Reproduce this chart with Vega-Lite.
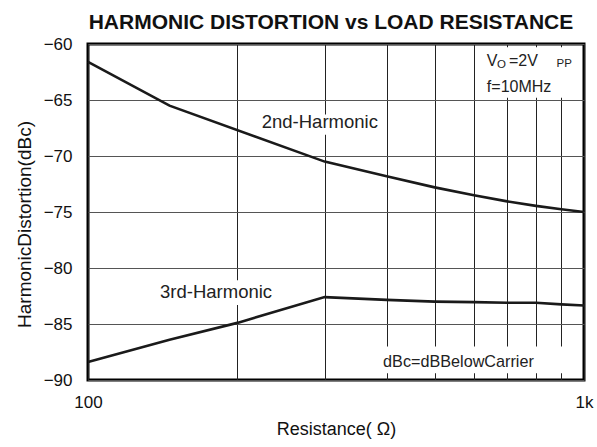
{
  "$schema": "https://vega.github.io/schema/vega-lite/v6.json",
  "width": 496,
  "height": 336,
  "autosize": {"type": "none"},
  "padding": {"left": 88, "top": 44, "right": 13, "bottom": 67},
  "background": "white",
  "config": {
    "font": "Liberation Sans",
    "view": {"stroke": "black", "strokeWidth": 3},
    "axis": {"labelFont": "Liberation Sans", "titleFont": "Liberation Sans", "labelColor": "#111", "titleColor": "#111", "titleFontWeight": "normal"}
  },
  "title": {"text": "HARMONIC DISTORTION vs LOAD RESISTANCE", "fontSize": 21, "fontWeight": "bold", "font": "Liberation Sans", "color": "#111", "anchor": "middle", "baseline": "bottom", "offset": 4, "dx": -5, "dy": 23},
  "datasets": {
    "curves": [
      {"r": 100, "d": -61.6, "s": "2nd"},
      {"r": 146, "d": -65.5, "s": "2nd"},
      {"r": 300, "d": -70.5, "s": "2nd"},
      {"r": 400, "d": -71.8, "s": "2nd"},
      {"r": 500, "d": -72.8, "s": "2nd"},
      {"r": 600, "d": -73.5, "s": "2nd"},
      {"r": 700, "d": -74.05, "s": "2nd"},
      {"r": 800, "d": -74.45, "s": "2nd"},
      {"r": 900, "d": -74.75, "s": "2nd"},
      {"r": 1000, "d": -75.0, "s": "2nd"},
      {"r": 100, "d": -88.4, "s": "3rd"},
      {"r": 146, "d": -86.4, "s": "3rd"},
      {"r": 200, "d": -84.9, "s": "3rd"},
      {"r": 300, "d": -82.6, "s": "3rd"},
      {"r": 400, "d": -82.85, "s": "3rd"},
      {"r": 500, "d": -83.0, "s": "3rd"},
      {"r": 600, "d": -83.05, "s": "3rd"},
      {"r": 700, "d": -83.1, "s": "3rd"},
      {"r": 800, "d": -83.1, "s": "3rd"},
      {"r": 900, "d": -83.25, "s": "3rd"},
      {"r": 1000, "d": -83.35, "s": "3rd"}
    ],
    "boxes": [
      {"x1": 605, "x2": 983, "y1": -60.3, "y2": -64.8},
      {"x1": 220, "x2": 391, "y1": -66.3, "y2": -68.1},
      {"x1": 138, "x2": 240, "y1": -81.1, "y2": -83.3},
      {"x1": 388, "x2": 981, "y1": -87.0, "y2": -89.4}
    ]
  },
  "layer": [
    {
      "data": {"name": "boxes"},
      "mark": {"type": "rect", "fill": "white", "stroke": null},
      "encoding": {
        "x": {"field": "x1", "type": "quantitative", "scale": {"type": "log", "domain": [100, 1000]},
          "axis": {"values": [100, 200, 300, 400, 500, 600, 700, 800, 900, 1000], "labelExpr": "datum.value == 100 ? '100' : datum.value == 1000 ? '1k' : ''", "grid": true, "gridColor": "#222", "gridWidth": 1, "gridOpacity": 1, "ticks": false, "domain": false, "labelFontSize": 17, "labelPadding": 14, "labelFlush": false, "labelOverlap": false, "title": "Resistance( Ω)", "titleFontSize": 18, "titlePadding": 10}},
        "x2": {"field": "x2"},
        "y": {"field": "y1", "type": "quantitative", "scale": {"domain": [-90, -60]},
          "axis": {"values": [-90, -85, -80, -75, -70, -65, -60], "grid": true, "gridColor": "#555", "gridWidth": 1.2, "gridOpacity": 1, "ticks": false, "domain": false, "labelFontSize": 17, "labelPadding": 16, "labelFlush": false, "title": "HarmonicDistortion(dBc)", "titleFontSize": 19, "titlePadding": 9, "titleY": 180}},
        "y2": {"field": "y2"}
      }
    },
    {
      "data": {"name": "curves"},
      "mark": {"type": "line", "color": "#1a1a1a", "strokeWidth": 2.6},
      "encoding": {
        "x": {"field": "r", "type": "quantitative"},
        "y": {"field": "d", "type": "quantitative"},
        "detail": {"field": "s"}
      }
    },
    {
      "data": {"values": [{"x": 224, "y": -67.53, "t": "2nd-Harmonic"}, {"x": 139.7, "y": -82.71, "t": "3rd-Harmonic"}]},
      "mark": {"type": "text", "align": "left", "baseline": "alphabetic", "fontSize": 18.5, "color": "#222", "font": "Liberation Sans"},
      "encoding": {"x": {"field": "x", "type": "quantitative"}, "y": {"field": "y", "type": "quantitative"}, "text": {"field": "t"}}
    },
    {
      "data": {"values": [{"x": 393.5, "y": -88.87, "t": "dBc=dBBelowCarrier"}]},
      "mark": {"type": "text", "align": "left", "baseline": "alphabetic", "fontSize": 16.2, "color": "#222", "font": "Liberation Sans"},
      "encoding": {"x": {"field": "x", "type": "quantitative"}, "y": {"field": "y", "type": "quantitative"}, "text": {"field": "t"}}
    },
    {
      "data": {"values": [{"x": 637, "y": -61.96, "t": "V"}, {"x": 706, "y": -61.96, "t": "=2V"}, {"x": 637, "y": -64.29, "t": "f=10MHz"}]},
      "mark": {"type": "text", "align": "left", "baseline": "alphabetic", "fontSize": 16, "color": "#222", "font": "Liberation Sans"},
      "encoding": {"x": {"field": "x", "type": "quantitative"}, "y": {"field": "y", "type": "quantitative"}, "text": {"field": "t"}}
    },
    {
      "data": {"values": [{"x": 668, "y": -62.15, "t": "O"}, {"x": 880, "y": -62.05, "t": "PP"}]},
      "mark": {"type": "text", "align": "left", "baseline": "alphabetic", "fontSize": 11.5, "color": "#222", "font": "Liberation Sans"},
      "encoding": {"x": {"field": "x", "type": "quantitative"}, "y": {"field": "y", "type": "quantitative"}, "text": {"field": "t"}}
    }
  ]
}
